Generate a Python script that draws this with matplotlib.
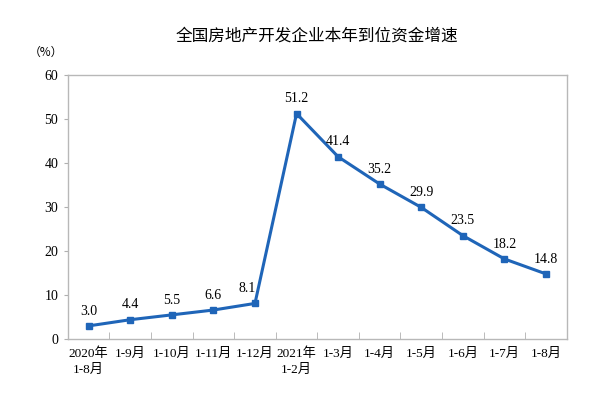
import matplotlib
matplotlib.use("Agg")
import matplotlib.pyplot as plt

categories = ["2020年\n1-8月", "1-9月", "1-10月", "1-11月", "1-12月", "2021年\n1-2月",
              "1-3月", "1-4月", "1-5月", "1-6月", "1-7月", "1-8月"]
growth = [3.0, 4.4, 5.5, 6.6, 8.1, 51.2, 41.4, 35.2, 29.9, 23.5, 18.2, 14.8]
yticks = [0, 10, 20, 30, 40, 50, 60]

FONTS = ["Liberation Serif", "Noto Sans CJK SC"]
LINE = "#1f65b8"

fig = plt.figure(figsize=(6.01, 3.98), dpi=100)
ax = fig.add_axes([0.113, 0.148, 0.83, 0.664])

x = list(range(len(growth)))
ax.plot(x, growth, color=LINE, lw=2.2, marker="s", markersize=4.5)
for xi, v in zip(x, growth):
    # the label before the jump sits a bit left so the rising line doesn't cut it
    dx = -6 if xi == 4 else 0
    ax.annotate(f"{v:.1f}", (xi, v), xytext=(dx, 6), textcoords="offset points",
                ha="center", va="bottom", fontsize=10, family=FONTS)

ax.set_xlim(-0.5, len(growth) - 0.5)
ax.set_ylim(0, 60)
ax.set_yticks(yticks)
ax.set_yticklabels([str(t) for t in yticks], family=FONTS, fontsize=10)
ax.set_xticks(x)
ax.set_xticklabels(categories, family=FONTS, fontsize=9.5, linespacing=1.4, va="top")
ax.tick_params(axis="x", length=0, pad=6)
ax.tick_params(axis="y", length=3, color="#b0b0b0", pad=4)
ax.set_xticks([i + 0.5 for i in range(len(growth) - 1)], minor=True)
ax.tick_params(axis="x", which="minor", direction="in", length=5, color="#b0b0b0")
for s in ax.spines.values():
    s.set_color("#b8b8b8")
    s.set_linewidth(1.0)

fig.text(0.527, 0.91, "全国房地产开发企业本年到位资金增速", ha="center", va="center",
         fontsize=12, family=["Noto Sans CJK SC", "DejaVu Sans"])
fig.text(0.077, 0.868, "（%）", ha="center", va="center", fontsize=8.5,
         family=["Noto Sans CJK SC", "DejaVu Sans"])

fig.savefig("out.png", dpi=100)
